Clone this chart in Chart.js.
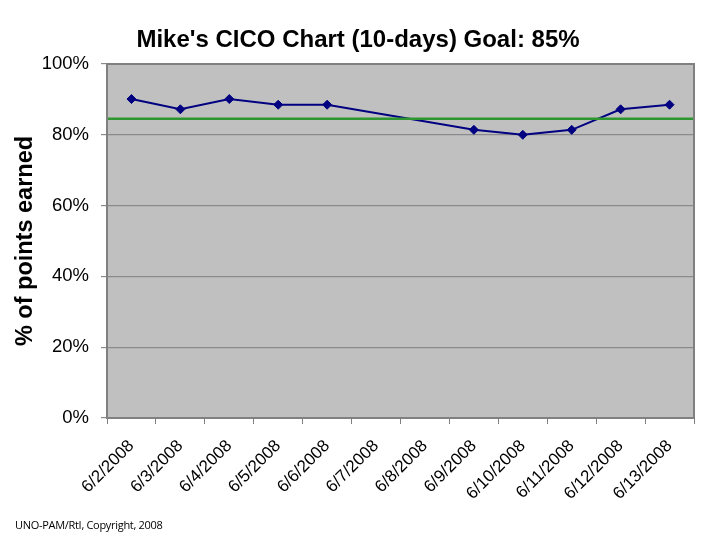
<!DOCTYPE html>
<html><head><meta charset="utf-8">
<script src="https://cdn.jsdelivr.net/npm/chart.js@4/dist/chart.umd.min.js"></script>
<style>
html,body{margin:0;padding:0;background:#fff;}
#wrap{position:relative;width:720px;height:540px;}
#footer{position:absolute;left:15px;top:517px;font:11px "Open Sans",Arial,sans-serif;color:#000;white-space:nowrap;letter-spacing:-0.3px;}
</style></head>
<body>
<div id="wrap"><canvas id="c" width="720" height="540"></canvas>
<div id="footer">UNO-PAM/RtI, Copyright, 2008</div></div>
<script>
const categories = ["6/2/2008","6/3/2008","6/4/2008","6/5/2008","6/6/2008","6/7/2008","6/8/2008","6/9/2008","6/10/2008","6/11/2008","6/12/2008","6/13/2008"];
const percentEarned = [90.1, 87.2, 90.1, 88.5, 88.5, null, null, 81.4, 80.0, 81.4, 87.2, 88.5];
const goalValue = 84.5;
const yTicks = [0, 20, 40, 60, 80, 100];
const chartTitle = "Mike's CICO Chart (10-days) Goal: 85%";

const plotBg = {
  id: 'plotBg',
  beforeDraw(chart) {
    const {ctx, chartArea: a} = chart;
    ctx.save();
    ctx.fillStyle = '#c0c0c0';
    ctx.fillRect(a.left, a.top, a.right - a.left, a.bottom - a.top);
    ctx.restore();
  },
  afterDatasetsDraw(chart) {
    const {ctx, chartArea: a, scales} = chart;
    const y = scales.y.getPixelForValue(goalValue);
    ctx.save();
    ctx.strokeStyle = '#2e962e';
    ctx.lineWidth = 2.5;
    ctx.beginPath();
    ctx.moveTo(a.left, y);
    ctx.lineTo(a.right, y);
    ctx.stroke();
    ctx.restore();
  },
  afterDraw(chart) {
    const {ctx, chartArea: a} = chart;
    ctx.save();
    ctx.strokeStyle = '#808080';
    ctx.lineWidth = 2;
    ctx.strokeRect(a.left, a.top, a.right - a.left, a.bottom - a.top);
    ctx.fillStyle = '#000';
    ctx.font = 'bold 24px Arial, "Liberation Sans", sans-serif';
    ctx.textAlign = 'center';
    ctx.textBaseline = 'alphabetic';
    ctx.fillText(chartTitle, 358, 47);
    ctx.restore();
  }
};

new Chart(document.getElementById('c'), {
  type: 'line',
  data: {
    labels: categories,
    datasets: [{
      data: percentEarned,
      borderColor: '#000080',
      backgroundColor: '#000080',
      borderWidth: 2,
      pointStyle: 'rectRot',
      pointRadius: 4.5,
      pointBorderWidth: 1,
      spanGaps: true,
      tension: 0
    }]
  },
  options: {
    responsive: false,
    animation: false,
    layout: {padding: {left: 0, right: 26, top: 64, bottom: 0}},
    plugins: {
      legend: {display: false},
      tooltip: {enabled: false},
      title: {display: false}
    },
    scales: {
      x: {
        offset: true,
        grid: {display: true, drawOnChartArea: false, drawTicks: true, tickLength: 6, color: '#808080', offset: true},
        border: {display: false},
        ticks: {
          minRotation: 45, maxRotation: 45, autoSkip: false,
          font: {family: 'Arial, "Liberation Sans"', size: 17},
          color: '#000', padding: 12
        },
        afterFit(s) { s.height = 122; }
      },
      y: {
        min: 0, max: 100,
        afterBuildTicks(s) { s.ticks = yTicks.map(v => ({value: v})); },
        grid: {color: '#8a8a8a', lineWidth: 1.2, tickLength: 6, drawTicks: true},
        border: {display: false},
        ticks: {
          callback: v => v + '%',
          font: {family: 'Arial, "Liberation Sans"', size: 18.5},
          color: '#000', padding: 12
        },
        title: {
          display: true,
          text: '% of points earned',
          font: {family: 'Arial, "Liberation Sans"', size: 23.5, weight: 'bold'},
          color: '#000',
          padding: {top: 11, bottom: 0}
        },
        afterFit(s) { s.width = 107; }
      }
    }
  },
  plugins: [plotBg]
});
</script>
</body></html>
